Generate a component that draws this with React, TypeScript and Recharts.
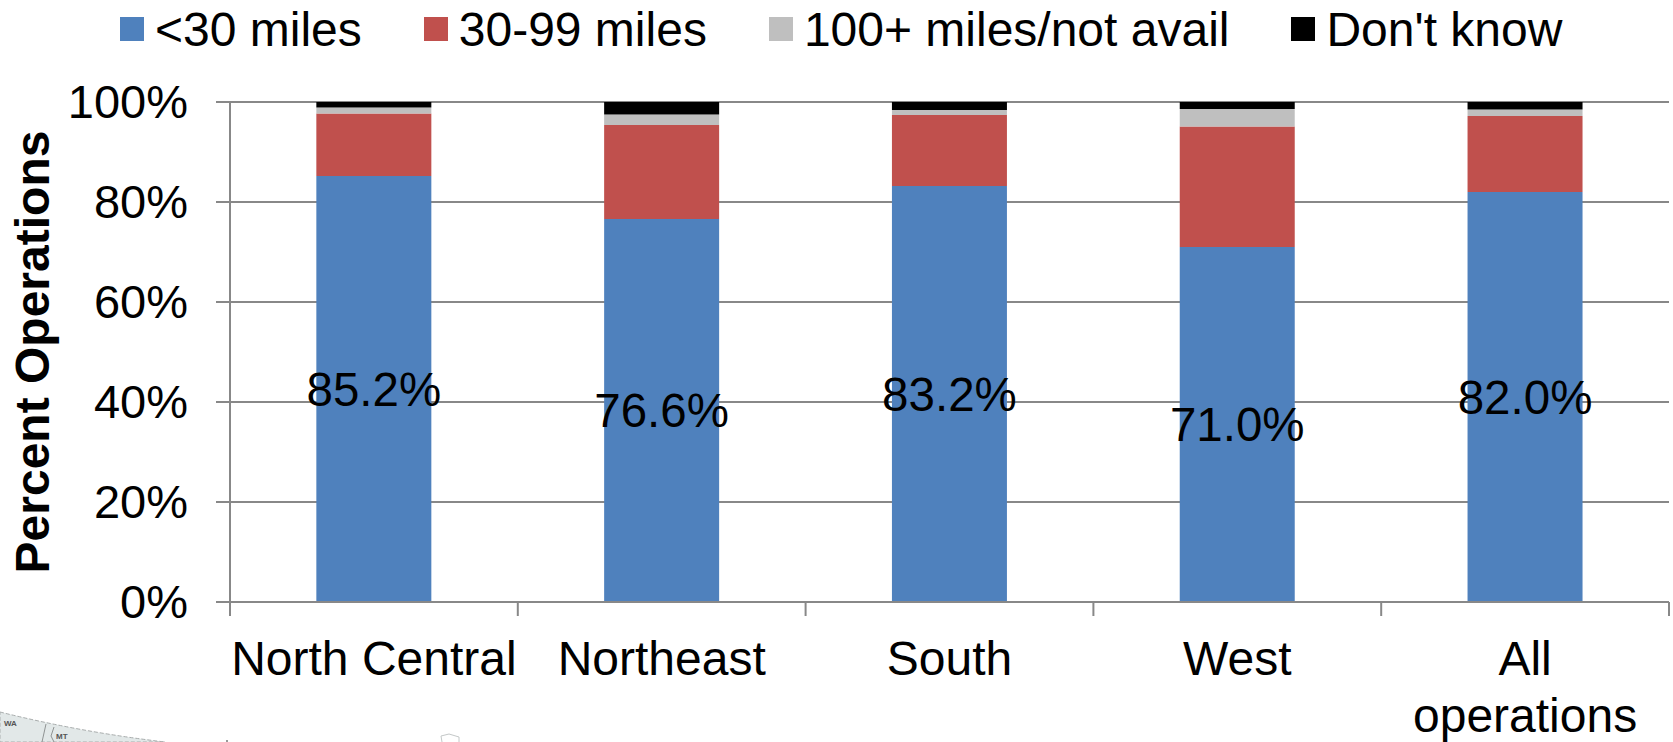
import { Bar, BarChart, CartesianGrid, LabelList, Legend, XAxis, YAxis } from 'recharts'

const regions = ['North Central', 'Northeast', 'South', 'West', 'All operations']
const regionLines = [['North Central'], ['Northeast'], ['South'], ['West'], ['All', 'operations']]
const under30 = [85.2, 76.6, 83.2, 71.0, 82.0]
const from30to99 = [12.5, 18.8, 14.2, 24.1, 15.2]
const over100 = [1.2, 2.1, 1.0, 3.5, 1.3]
const dontKnow = [1.1, 2.5, 1.6, 1.4, 1.5]
const percentTicks = [0, 20, 40, 60, 80, 100]

const chartData = regions.map((region, i) => ({
  region,
  under30: under30[i],
  from30to99: from30to99[i],
  over100: over100[i],
  dontKnow: dontKnow[i],
}))

const FONT = '"Liberation Sans", Arial, sans-serif'
const AXIS_GREY = '#888888'

function RegionTick({ x, y, width, index }: any) {
  const band = width / regions.length
  const left = x - band / 2
  return (
    <g>
      <line x1={left} x2={left} y1={y} y2={y + 14} stroke={AXIS_GREY} strokeWidth={2} />
      {index === regions.length - 1 && (
        <line x1={left + band} x2={left + band} y1={y} y2={y + 14} stroke={AXIS_GREY} strokeWidth={2} />
      )}
      <text x={x} y={y + 73} textAnchor="middle" fontSize={48} fontFamily={FONT} fill="#000">
        {regionLines[index].map((line, i) => (
          <tspan key={line} x={x} dy={i === 0 ? 0 : 57}>
            {line}
          </tspan>
        ))}
      </text>
    </g>
  )
}

function TopLegend({ payload }: any) {
  return (
    <div style={{ display: 'flex', alignItems: 'center', height: 58, paddingLeft: 120, fontFamily: FONT, fontSize: 48 }}>
      {payload.map((item: any) => (
        <div key={item.value} style={{ display: 'flex', alignItems: 'center', marginRight: 62, whiteSpace: 'nowrap' }}>
          <span style={{ width: 24, height: 24, background: item.color, marginRight: 11 }} />
          <span style={{ color: '#000' }}>{item.value}</span>
        </div>
      ))}
    </div>
  )
}

// remnant of a map picture that pokes in at the bottom left of the source slide
function MapSliver() {
  return (
    <svg width={1673} height={742} style={{ position: 'absolute', left: 0, top: 0, pointerEvents: 'none' }}>
      <path d="M0 712 Q80 732 165 742 L0 742 Z" fill="#e2e8e8" stroke="#a9adad" strokeDasharray="4 2" />
      <path d="M46 724 L42 742 M54 727 L51 736 L54 742" fill="none" stroke="#8f9393" />
      <text x={4} y={726} fontSize={8} fontWeight={700} fontFamily={FONT} fill="#555">WA</text>
      <text x={56} y={739} fontSize={8} fontWeight={700} fontFamily={FONT} fill="#555">MT</text>
      <path d="M442 742 L441 736 L449 734 L459 737 L459 742" fill="none" stroke="#c4c8c8" />
      <circle cx={227} cy={741} r={1} fill="#777" />
    </svg>
  )
}

export default function App() {
  return (
    <div style={{ position: 'absolute', left: 0, top: 0, width: 1673, height: 742, background: '#fff', overflow: 'hidden' }}>
      <BarChart
        width={1673}
        height={742}
        data={chartData}
        barCategoryGap="30%"
        margin={{ top: 42, right: 4, bottom: 0, left: 0 }}
      >
        <CartesianGrid vertical={false} stroke={AXIS_GREY} strokeWidth={2} />
        <XAxis
          dataKey="region"
          height={140}
          interval={0}
          axisLine={{ stroke: AXIS_GREY, strokeWidth: 2 }}
          tickLine={false}
          tickSize={0}
          tickMargin={0}
          tick={RegionTick}
        />
        <YAxis
          width={230}
          domain={[0, 100]}
          ticks={percentTicks}
          tickFormatter={(v: number) => `${v}%`}
          tick={{ fontSize: 47, fontFamily: FONT, fill: '#000', dy: -1 }}
          tickSize={14}
          tickMargin={28}
          axisLine={{ stroke: AXIS_GREY, strokeWidth: 2 }}
          tickLine={{ stroke: AXIS_GREY, strokeWidth: 2 }}
          label={{
            value: 'Percent Operations',
            angle: -90,
            position: 'insideLeft',
            offset: 32,
            style: { fontSize: 48, fontWeight: 700, fontFamily: FONT, fill: '#000', textAnchor: 'middle' },
          }}
        />
        <Legend verticalAlign="top" itemSorter={null} content={TopLegend} wrapperStyle={{ top: 0, left: 0, height: 60 }} />
        <Bar dataKey="under30" name="<30 miles" stackId="a" fill="#4f81bd" isAnimationActive={false}>
          <LabelList
            dataKey="under30"
            position="center"
            formatter={(v: number) => `${v.toFixed(1)}%`}
            style={{ fontSize: 47.5, fontFamily: FONT, fill: '#000' }}
          />
        </Bar>
        <Bar dataKey="from30to99" name="30-99 miles" stackId="a" fill="#c0504d" isAnimationActive={false} />
        <Bar dataKey="over100" name="100+ miles/not avail" stackId="a" fill="#bfbfbf" isAnimationActive={false} />
        <Bar dataKey="dontKnow" name="Don't know" stackId="a" fill="#000000" isAnimationActive={false} />
      </BarChart>
      <MapSliver />
    </div>
  )
}
